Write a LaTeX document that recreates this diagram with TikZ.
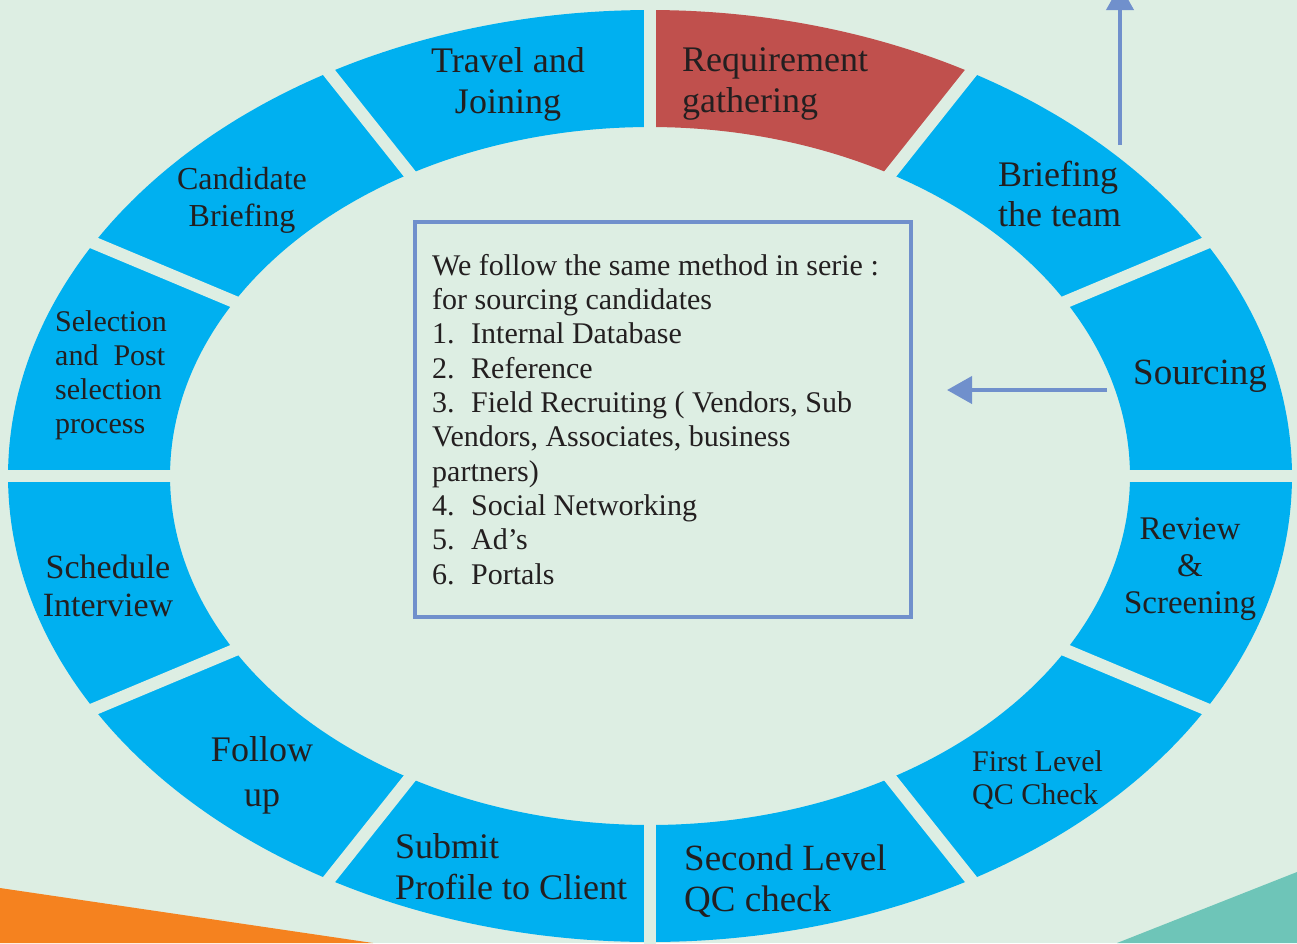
\documentclass[tikz,border=0pt]{standalone}
\usepackage{fontspec}
\setmainfont{Liberation Serif}
\usetikzlibrary{arrows.meta}
\definecolor{bg}{HTML}{DDEEE3}
\definecolor{segblue}{HTML}{00B0F0}
\definecolor{segred}{HTML}{C0504D}
\definecolor{arrowc}{HTML}{7090CC}
\definecolor{orangec}{HTML}{F5821F}
\definecolor{tealc}{HTML}{6EC5B8}
\definecolor{txt}{HTML}{231F20}
\tikzset{
  lbl/.style={text=txt, inner sep=0pt},
  gapline/.style={draw=bg, line width=12.5pt},
  flowarrow/.style={draw=arrowc, line width=4pt, -{Triangle[length=25pt,width=27pt]}},
}
\begin{document}
\begin{tikzpicture}[x=1pt,y=-1pt]
\useasboundingbox (0,0) rectangle (1297,943);
\clip (0,0) rectangle (1297,943);
\fill[bg] (0,0) rectangle (1297,943);
% corner triangles
\fill[orangec] (0,888) -- (373,943) -- (0,943) -- cycle;
\fill[tealc] (1297,872) -- (1297,943) -- (1117,943) -- cycle;
% ring segments
\foreach \a/\b/\c in {0/30/segblue,30/60/segblue,60/90/segred,90/120/segblue,120/150/segblue,150/180/segblue,180/210/segblue,210/240/segblue,240/270/segblue,270/300/segblue,300/330/segblue,330/360/segblue}{
  \fill[\c] plot[domain=\a:\b, samples=40, variable=\t] ({650+642*cos(\t)},{476-466*sin(\t)})
     -- plot[domain=\b:\a, samples=40, variable=\t] ({650+480*cos(\t)},{476-349*sin(\t)}) -- cycle;
}
% gaps between segments
\foreach \a in {0,30,...,330}{
  \draw[gapline] ({650+0.70*642*cos(\a)},{476-0.70*466*sin(\a)}) -- ({650+1.04*642*cos(\a)},{476-1.04*466*sin(\a)});
}
% labels
\node[lbl, align=center, font=\fontsize{36}{41}\selectfont] (travel) at (508,84) {Travel and\\Joining};
\node[lbl, align=left, anchor=west, font=\fontsize{36}{41}\selectfont] (req) at (682,84) {Requirement\\gathering};
\node[lbl, align=left, anchor=west, font=\fontsize{36}{40}\selectfont] (brief) at (998,194) {Briefing\\the team};
\node[lbl, anchor=west, font=\fontsize{37}{41}\selectfont] (sourcing) at (1133,376) {Sourcing};
\node[lbl, align=center, font=\fontsize{33}{37}\selectfont] (review) at (1190,569) {Review\\\&\\Screening};
\node[lbl, align=left, anchor=west, font=\fontsize{30}{33}\selectfont] (qc1) at (972,780) {First Level\\QC Check};
\node[lbl, align=left, anchor=west, font=\fontsize{37}{41}\selectfont] (qc2) at (684,881) {Second Level\\QC check};
\node[lbl, align=left, anchor=west, font=\fontsize{36}{41}\selectfont] (submit) at (395,867) {Submit\\Profile to Client};
\node[lbl, align=center, font=\fontsize{36}{45}\selectfont] (follow) at (262,775) {Follow\\up};
\node[lbl, align=center, font=\fontsize{34}{38}\selectfont] (sched) at (108,586) {Schedule\\Interview};
\node[lbl, align=left, anchor=west, font=\fontsize{30}{34}\selectfont] (select) at (55,375) {Selection\\and~~Post\\selection\\process};
\node[lbl, align=center, font=\fontsize{32}{37}\selectfont] (cand) at (242,200) {Candidate\\Briefing};
% central box
\node[draw=arrowc, line width=4pt, minimum width=496pt, minimum height=395pt, inner sep=0pt] (box) at (663,419.5) {};
\node[lbl, align=left, anchor=north west, font=\fontsize{30}{34.3}\selectfont] (boxtext) at (432,254) {We follow the same method in serie :\\for sourcing candidates\\\makebox[39pt][l]{1.}Internal Database\\\makebox[39pt][l]{2.}Reference\\\makebox[39pt][l]{3.}Field Recruiting ( Vendors, Sub\\Vendors, Associates, business\\partners)\\\makebox[39pt][l]{4.}Social Networking\\\makebox[39pt][l]{5.}Ad’s\\\makebox[39pt][l]{6.}Portals};
% arrows
\coordinate (upstart) at (1120,145);
\coordinate (upend) at (1120,-15);
\coordinate (leftstart) at (1107,390);
\coordinate (leftend) at (947,390);
\draw[flowarrow] (upstart) -- (upend);
\draw[flowarrow] (leftstart) -- (leftend);
\end{tikzpicture}
\end{document}
